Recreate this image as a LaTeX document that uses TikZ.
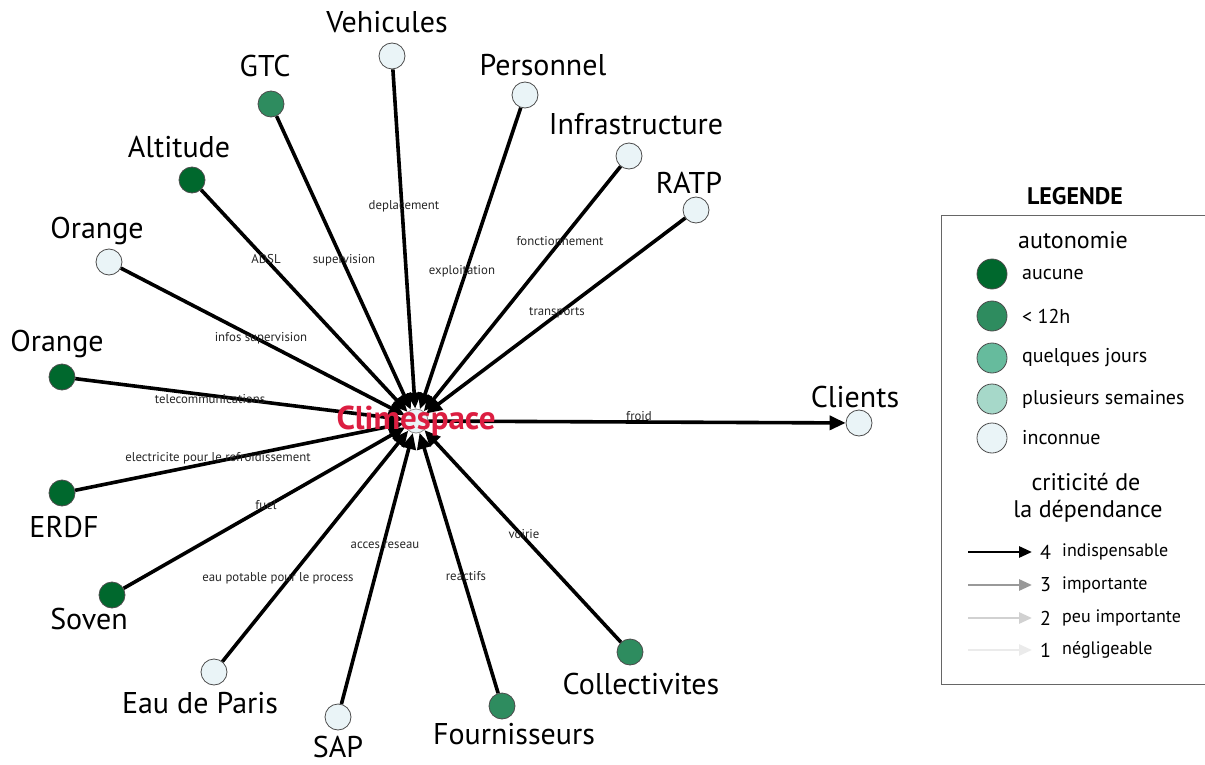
\documentclass[tikz,border=0pt]{standalone}
\usepackage{fontspec}
\setmainfont{PT Sans}
\usetikzlibrary{arrows.meta}
\definecolor{aucune}{RGB}{0,104,45}
\definecolor{douze}{RGB}{46,140,95}
\definecolor{jours}{RGB}{102,187,157}
\definecolor{semaines}{RGB}{166,216,201}
\definecolor{inconnue}{RGB}{234,244,247}
\definecolor{crimson}{RGB}{220,30,65}
\tikzset{
  ent/.style={circle, draw=black!70, line width=0.8pt, minimum size=26pt, inner sep=0pt},
  lgc/.style={circle, draw=black!70, line width=0.8pt, minimum size=30pt, inner sep=0pt},
  nlab/.style={font=\fontsize{30}{32}\selectfont, inner sep=0pt},
  elab/.style={font=\fontsize{12.8}{14}\selectfont, text=black!85, inner sep=0pt},
  ltxt/.style={font=\fontsize{20}{22}\selectfont, inner sep=0pt, anchor=west},
  lsm/.style={font=\fontsize{18}{20}\selectfont, inner sep=0pt, anchor=west},
  edge/.style={line width=3.6pt, -{Triangle[length=16pt,width=14pt]}},
  larr/.style={line width=2.8pt, -{Triangle[length=13pt,width=11pt]}},
}
\begin{document}
\begin{tikzpicture}[x=1pt,y=-1pt]
\useasboundingbox (0,0) rectangle (1205,765);
% centre
\node[ent, fill=inconnue, draw=black!45, minimum size=24pt] (c) at (416,421) {};
% peripheral entities
\node[ent, fill=inconnue] (veh) at (392,56) {};
\node[ent, fill=douze] (gtc) at (271,104) {};
\node[ent, fill=inconnue] (per) at (525,95) {};
\node[ent, fill=inconnue] (inf) at (629,156) {};
\node[ent, fill=inconnue] (ratp) at (696,210) {};
\node[ent, fill=aucune] (alt) at (192,180) {};
\node[ent, fill=inconnue] (or1) at (109,262) {};
\node[ent, fill=aucune] (or2) at (62,377) {};
\node[ent, fill=aucune] (erdf) at (62,493) {};
\node[ent, fill=aucune] (sov) at (112,595) {};
\node[ent, fill=inconnue] (eau) at (214,672) {};
\node[ent, fill=inconnue] (sap) at (338,717) {};
\node[ent, fill=douze] (fou) at (502,706) {};
\node[ent, fill=douze] (col) at (630,652) {};
\node[ent, fill=inconnue] (cli) at (859,423) {};
% names
\node[nlab] at (387,22) {Vehicules};
\node[nlab] at (265,66) {GTC};
\node[nlab] at (543,65) {Personnel};
\node[nlab] at (636,124) {Infrastructure};
\node[nlab] at (689,183) {RATP};
\node[nlab] at (179,147) {Altitude};
\node[nlab] at (97,231) {Orange};
\node[nlab] at (57,344) {Orange};
\node[nlab] at (64,527) {ERDF};
\node[nlab] at (89,619) {Soven};
\node[nlab] at (200,703) {Eau de Paris};
\node[nlab] at (338,747) {SAP};
\node[nlab] at (514,734) {Fournisseurs};
\node[nlab] at (641,684) {Collectivites};
\node[nlab] at (855,397) {Clients};
% connectors
\foreach \n in {veh,gtc,per,inf,ratp,alt,or1,or2,erdf,sov,eau,sap,fou,col}
  \draw[edge] (\n) -- (c);
\draw[edge] (c) -- (cli);
\node[font=\fontsize{33}{35}\selectfont\bfseries, text=crimson, inner sep=0pt] at (416,421) {Climespace};
% edge labels
\node[elab] at (404,206) {deplacement};
\node[elab] at (344,260) {supervision};
\node[elab] at (266,259) {ADSL};
\node[elab] at (462,271) {exploitation};
\node[elab] at (560,241) {fonctionnement};
\node[elab] at (557,313) {transports};
\node[elab] at (261,338) {infos supervision};
\node[elab] at (210,399) {telecommunications};
\node[elab] at (218,458) {electricite pour le refroidissement};
\node[elab] at (266,505) {fuel};
\node[elab] at (385,545) {acces reseau};
\node[elab] at (278,578) {eau potable pour le process};
\node[elab] at (466,576) {reactifs};
\node[elab] at (524,534) {voirie};
\node[elab] at (639,416) {froid};
% legend
\node[font=\fontsize{24}{26}\selectfont\bfseries, inner sep=0pt] (lt) at (1075,196) {LEGENDE};
\draw[black!60, line width=1pt] (941,215) rectangle (1205,684);
\node[font=\fontsize{24}{26}\selectfont, inner sep=0pt] (la) at (1073,240) {autonomie};
\node[lgc, fill=aucune] (l1) at (992,274) {};
\node[lgc, fill=douze] (l2) at (992,316) {};
\node[lgc, fill=jours] (l3) at (992,358) {};
\node[lgc, fill=semaines] (l4) at (992,399) {};
\node[lgc, fill=inconnue] (l5) at (992,438) {};
\node[ltxt] at (1022,274) {aucune};
\node[ltxt] at (1022,316) {< 12h};
\node[ltxt] at (1022,358) {quelques jours};
\node[ltxt] at (1022,399) {plusieurs semaines};
\node[ltxt] at (1022,438) {inconnue};
\node[font=\fontsize{24}{26}\selectfont, inner sep=0pt] at (1086,482) {criticité de};
\node[font=\fontsize{24}{26}\selectfont, inner sep=0pt] at (1088,511) {la dépendance};
\coordinate (a1s) at (968,552); \coordinate (a1e) at (1032,552);
\coordinate (a2s) at (968,585); \coordinate (a2e) at (1032,585);
\coordinate (a3s) at (968,618); \coordinate (a3e) at (1032,618);
\coordinate (a4s) at (968,650); \coordinate (a4e) at (1032,650);
\draw[larr, black] (a1s) -- (a1e);
\draw[larr, black!40] (a2s) -- (a2e);
\draw[larr, black!18] (a3s) -- (a3e);
\draw[larr, black!8] (a4s) -- (a4e);
\node[ltxt] at (1040,552) {4};
\node[ltxt] at (1040,585) {3};
\node[ltxt] at (1040,618) {2};
\node[ltxt] at (1040,650) {1};
\node[lsm] at (1062,552) {indispensable};
\node[lsm] at (1062,585) {importante};
\node[lsm] at (1062,618) {peu importante};
\node[lsm] at (1062,650) {négligeable};
\end{tikzpicture}
\end{document}
